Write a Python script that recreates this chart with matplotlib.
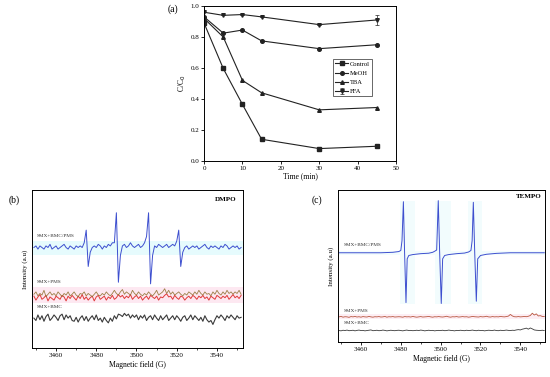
import numpy as np
import matplotlib.pyplot as plt
from matplotlib.ticker import MultipleLocator

plt.rcParams['font.family'] = ['Liberation Serif', 'DejaVu Serif']

# (a) quenching data
time = [0, 5, 10, 15, 30, 45]
control = [0.89, 0.597, 0.365, 0.14, 0.08, 0.095]
meoh = [0.93, 0.825, 0.845, 0.775, 0.725, 0.75]
tba = [0.92, 0.80, 0.52, 0.44, 0.33, 0.345]
ffa = [0.96, 0.94, 0.945, 0.93, 0.88, 0.91]
ffa_err = [0, 0, 0, 0, 0, 0.03]

# (b) DMPO spectra, field 3449..3552 G step 1, signal in 0.01 a.u.
field = np.arange(3449, 3553)
dmpo_pms_bmc = [0, 1, -1, 1, 0, -1, 1, 0, 2, -1,
                0, 1, -1, 0, 1, 2, 0, -1, 1, 0,
                -1, 1, 0, 1, 0, 3, 11, -12, -3, 0,
                1, 0, 2, 1, -1, 1, 0, 2, 1, 3,
                3, 22, -22, -5, 1, 2, 0, 1, 3, 1,
                0, 1, 2, 0, 1, 3, 7, 22, -23, -5,
                1, 0, 2, 1, 0, 1, 2, 0, 1, 2,
                1, 4, 11, -12, -3, 0, 1, -1, 0, 1,
                0, 1, -1, 0, 1, 2, 0, -1, 1, 0,
                1, 0, -1, 1, 0, 2, 1, -1, 0, 1,
                0, 1, -1, 0]
dmpo_pms_a = [1, -1.5, 0.5, 2, -1, 0, 1.5, -2, 0.5, -0.5,
              -1.5, 1, 0, -1, 1.5, 0.5, -2, 1, -0.5, 1.5,
              0, -1.5, 1, -0.5, 2, -1, 0.5, -1.5, 0, 1,
              -2, 0.5, 1.5, -1, 0, 1, -1.5, 0.5, -0.5, 1.5,
              -1, 0, 2, 0.5, 1.5, -0.5, 1, 0, 2, -1,
              0.5, 1.5, -0.5, 1, -1.5, 0, 1, -1, 1.5, 0.5,
              -0.5, 1, -1.5, 0.5, 0, 1.5, 2.5, 0.5, 1, -1,
              1.5, 0, -1, 1, 0.5, -1.5, 0, 1, -0.5, 1.5,
              0.5, -1, 1, 0, 1.5, -0.5, 0.5, -1.5, 1, 0,
              -1, 1.5, 0.5, -0.5, 1, 0, 1.5, -1, 0.5, 2,
              0, 1, -0.5, 1.5]
dmpo_pms_b = [0.5, 2, -0.5, 1, 0, 3, -1, 0.5, 2, 0,
              1, -0.5, 2, 0.5, -1, 1, 0, 2, -0.5, 0.5,
              2, 0, -1, 1, 0.5, 2, -0.5, 1, 0, -1,
              0.5, 2, 0, -0.5, 1, 0, 2, 0.5, -0.5, 1,
              3, 1, 0, 2, 3.5, 0.5, 2, 1, 0, 3,
              1, 0, 2, 0.5, -0.5, 1, 0, 2, 0.5, -0.5,
              1, 3, 0, 1, 2, 4, 1, 3, 0.5, 2,
              0, 1, 2, 0.5, -0.5, 1, 0, 2, 1, 0,
              2, 0.5, 3, 1, 0, 2, 0.5, 1, -0.5, 2,
              0.5, 3, 1, 0, 2, 0.5, 3, 1, 2, 0.5,
              2, 1, 3, 0.5]
dmpo_bmc = [0, -1.5, 2, -1, 1.5, -2, 1, 2.5, -1.5, 0,
            2, 0.5, -1.5, 1.5, 2.5, -1, 2, 0, 1.5, -1.5,
            -2, 0.5, -2.5, 0, 1.5, -1.5, 1, -2, 0, 1.5,
            -1, 2, -1.5, 0, -2.5, 0.5, -1.5, -3, 0, -2,
            1.5, -0.5, 2.5, 2, 1, 3, 1.5, 2.5, 0, 2,
            0.5, 2, -1, 1.5, 0, 2, -1.5, 0.5, 1.5, -1,
            2, 0, -1.5, 1.5, -1, 0.5, 2, -1.5, 0, 1.5,
            -1, 1.5, 0, -2, 0.5, 1.5, -1.5, 0, 2, -1,
            1.5, 0, -1.5, 0.5, -2, 1.5, -1, -2.5, -1.5, -4,
            -1, 1.5, 0, 2, 0.5, -1.5, 1.5, 0, 2, 0.5,
            -1, 1.5, 0, 0.5]

# (c) TEMPO spectra
tempo_field = [3449, 3470, 3476, 3479, 3480, 3480.6, 3481.3, 3481.9, 3482.6, 3483.2,
               3484, 3486, 3490, 3494, 3496, 3497, 3498, 3498.8, 3499.5, 3500.3,
               3501, 3502, 3504, 3508, 3512, 3514, 3515.2, 3515.8, 3516.4, 3517.1,
               3517.9, 3518.6, 3520, 3523, 3528, 3535, 3552]
tempo_pms_bmc = [0, 0, 0.3, 0.8, 1.5, 8, 33.6, 0, -32.8, -4,
                 -1.8, -1.2, -0.6, -0.3, 0.3, 1.0, 1.8, 34.3, 0, -33.4,
                 -4, -1.8, -1.2, -0.6, -0.2, 0.5, 1.5, 8, 33.2, 0,
                 -31.9, -4, -1.8, -1.0, -0.4, 0, 0]
tempo_pms = [0, 0.3, -0.2, 0.1, 0, -0.3, 0.2, 0, 0.3, -0.1,
             0.1, -0.2, 0.2, 0, -0.1, 0.3, 0, -0.2, 0.1, 0,
             0.2, -0.1, 0, 0.3, -0.2, 0.1, 0, 0.2, -0.1, 0,
             0.1, 0, -0.2, 0.2, 0, 0.1, -0.1, 0.3, 0, -0.2,
             0, 0.2, -0.1, 0, 0.1, 0.3, 0, -0.2, 0.1, 0,
             0.2, 0, -0.1, 0.1, 0.4, 0, -0.2, 0.1, 0, 0.2,
             -0.1, 0, 0.2, 0, 0.1, -0.2, 0, 0.3, 0.1, 0,
             -0.1, 0.2, 0, 0.1, 0.4, 0, -0.1, 0.2, 0, 0.1,
             0, 0.3, 0.1, 0, 0.2, 0.5, 1.6, 0.6, 0.1, 0,
             0.2, 0, 0.1, 0.3, 0.1, 0.4, 0.9, 2.4, 1.2, 2.0,
             0.6, 0.8, 0.3, 0.2]
tempo_bmc = [0, -0.2, 0.2, 0, 0.3, -0.1, 0, 0.2, -0.2, 0.1,
             0.3, 0, 0.1, -0.2, 0, 0.2, 0.4, -0.1, 0, 0.2,
             -0.1, 0, 0.3, 0.1, -0.2, 0, 0.2, 0, -0.1, 0.1,
             0.2, 0, -0.2, 0.1, 0.3, 0, 0.1, -0.1, 0, 0.2,
             0, 0.3, 0.1, -0.2, 0, 0.2, 0, 0.1, -0.2, 0,
             0.1, 0, 0.2, -0.1, 0, 0.3, 0.1, 0, -0.2, 0.1,
             0, 0.2, 0, -0.1, 0.2, 0, 0.1, 0.3, 0, -0.1,
             0.2, 0, 0.1, -0.2, 0, 0.2, 0.1, 0, 0.3, 0,
             -0.1, 0.2, 0, 0.1, 0.3, 0.1, 0, 0.2, 0.1, 0.4,
             0.6, 0.4, 0.9, 1.2, 1.6, 0.9, 1.7, 1.1, 0.4, 0.2,
             0.1, 0, 0.2, 0]

blue = '#3d4fcf'
fs = 5

fig = plt.figure(figsize=(5.5, 3.77), dpi=100)

# ---- (a)
ax = fig.add_axes([0.371, 0.573, 0.349, 0.411])
kw = dict(color='#222222', lw=0.8, ms=2.6)
ax.plot(time, control, marker='s', label='Control', **kw)
ax.plot(time, meoh, marker='o', label='MeOH', **kw)
ax.plot(time, tba, marker='^', label='TBA', **kw)
ax.errorbar(time, ffa, yerr=ffa_err, marker='v', label='FFA', capsize=1.2,
            elinewidth=0.5, capthick=0.5, **kw)
ax.set_xlim(0, 50)
ax.set_ylim(0, 1.0)
ax.xaxis.set_major_locator(MultipleLocator(10))
ax.yaxis.set_major_locator(MultipleLocator(0.2))
ax.tick_params(labelsize=fs, length=2, width=0.6, direction='out', pad=1.5)
ax.set_xlabel('Time (min)', fontsize=fs + 0.5, labelpad=1)
ax.set_ylabel('C/C$_0$', fontsize=fs + 0.5, labelpad=2)
for s in ax.spines.values():
    s.set_linewidth(0.7)
leg = ax.legend(loc='upper left', bbox_to_anchor=(0.655, 0.68), fontsize=fs - 0.3,
                frameon=True, fancybox=False, edgecolor='#222222', handlelength=1.9,
                borderpad=0.35, labelspacing=0.55, handletextpad=0.3)
leg.get_frame().set_linewidth(0.6)
fig.text(0.305, 0.975, '(a)', fontsize=fs + 2, va='center')

# ---- (b)
bx = fig.add_axes([0.058, 0.077, 0.384, 0.419])
bx.axhspan(0.59, 0.68, color='#e6fbfd', lw=0, zorder=0)
bx.axhspan(0.285, 0.385, color='#fde8f1', lw=0, zorder=0)
bx.plot(field, 0.636 + np.array(dmpo_pms_bmc) / 100, color=blue, lw=0.7)
bx.plot(field, 0.318 + np.array(dmpo_pms_a) / 100, color='#e03a3a', lw=0.7)
bx.plot(field, 0.335 + np.array(dmpo_pms_b) / 100, color='#8c6d2a', lw=0.6, alpha=0.85)
bx.plot(field, 0.189 + np.array(dmpo_bmc) / 100, color='#3a3a3a', lw=0.8)
bx.set_xlim(3448, 3553)
bx.set_ylim(0, 1)
bx.text(0.024, 0.705, 'SMX+BMC/PMS', transform=bx.transAxes, fontsize=3.8, color='#333333')
bx.text(0.024, 0.41, 'SMX+PMS', transform=bx.transAxes, fontsize=3.8, color='#333333')
bx.text(0.024, 0.253, 'SMX+BMC', transform=bx.transAxes, fontsize=3.8, color='#333333')
bx.text(0.97, 0.943, 'DMPO', transform=bx.transAxes, fontsize=fs, fontweight='bold', ha='right', va='center')
bx.set_ylabel('Intensity (a.u)', fontsize=fs, labelpad=3)
bx.set_xlabel('Magnetic field (G)', fontsize=fs + 0.5, labelpad=2)
fig.text(0.015, 0.47, '(b)', fontsize=fs + 2, va='center')

# ---- (c)
cx = fig.add_axes([0.615, 0.093, 0.376, 0.403])
for lo, hi in [(3479.5, 3487), (3497, 3505), (3513.5, 3521)]:
    cx.axvspan(lo, hi, ymin=0.25, ymax=0.93, color='#f2fcfd', lw=0, zorder=0)
cx.axhspan(0.575, 0.6, color='#f2fcfd', lw=0, zorder=0)
cx.axhspan(0.15, 0.185, color='#fdeef4', lw=0, zorder=0)
cx.plot(tempo_field, 0.587 + np.array(tempo_pms_bmc) / 100, color=blue, lw=0.7)
cx.plot(field, 0.165 + np.array(tempo_pms) / 100, color='#b8553f', lw=0.6)
cx.plot(field, 0.075 + np.array(tempo_bmc) / 100, color='#3a3a3a', lw=0.6)
cx.set_xlim(3448.6, 3552.4)
cx.set_ylim(0, 1)
cx.text(0.024, 0.63, 'SMX+BMC/PMS', transform=cx.transAxes, fontsize=3.8, color='#333333')
cx.text(0.024, 0.20, 'SMX+PMS', transform=cx.transAxes, fontsize=3.8, color='#333333')
cx.text(0.024, 0.12, 'SMX+BMC', transform=cx.transAxes, fontsize=3.8, color='#333333')
cx.text(0.984, 0.96, 'TEMPO', transform=cx.transAxes, fontsize=fs, fontweight='bold', ha='right', va='center')
cx.set_ylabel('Intensity (a.u)', fontsize=fs, labelpad=3)
cx.set_xlabel('Magnetic field (G)', fontsize=fs + 0.5, labelpad=2)
fig.text(0.567, 0.47, '(c)', fontsize=fs + 2, va='center')

for a in (bx, cx):
    a.xaxis.set_major_locator(MultipleLocator(20))
    a.xaxis.set_minor_locator(MultipleLocator(10))
    a.set_yticks([])
    a.tick_params(axis='x', which='major', labelsize=fs, length=2, width=0.6, pad=1.5)
    a.tick_params(axis='x', which='minor', length=1.2, width=0.5)
    for s in a.spines.values():
        s.set_linewidth(0.7)

fig.savefig('out.png', dpi=100)
